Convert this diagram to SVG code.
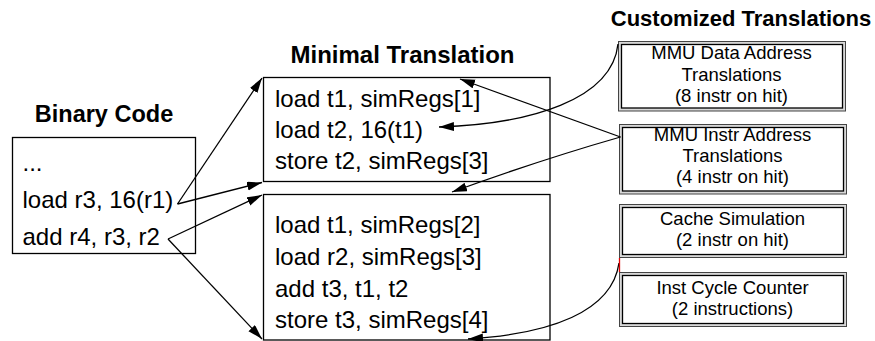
<svg xmlns="http://www.w3.org/2000/svg" width="875" height="341" viewBox="0 0 875 341">
<style>
.t{font-family:"Liberation Sans",Arial,sans-serif;font-size:24px;fill:#000}
.h{font-family:"Liberation Sans",Arial,sans-serif;font-weight:bold;fill:#000;text-anchor:middle}
.s{font-family:"Liberation Sans",Arial,sans-serif;font-size:18.5px;fill:#000;text-anchor:middle}
.box{fill:#fff;stroke:#000;stroke-width:1.3}
.ob{fill:#d8d8d8;stroke:#444;stroke-width:1}
.ib{fill:#fff;stroke:#000;stroke-width:1.3}
.c{fill:none;stroke:#000;stroke-width:1.3;marker-end:url(#ah)}
</style>
<defs>
<marker id="ah" markerUnits="userSpaceOnUse" markerWidth="16" markerHeight="10" refX="15" refY="4.5" orient="auto">
<path d="M0,0 L15,4.5 L0,9 z" fill="#000"/>
</marker>
</defs>
<g id="titles">
<text class="h" x="104" y="122" font-size="23.5">Binary Code</text>
<text class="h" x="402.5" y="63" font-size="24">Minimal Translation</text>
<text class="h" x="741" y="26" font-size="22">Customized Translations</text>
</g>
<g id="binary">
<rect class="box" x="12.5" y="137.5" width="183" height="116"/>
<text class="t" x="22.5" y="171">...</text>
<text class="t" x="22.5" y="207.5">load r3, 16(r1)</text>
<text class="t" x="22.5" y="245">add r4, r3, r2</text>
</g>
<g id="min1">
<rect class="box" x="263.5" y="77.5" width="286.5" height="104"/>
<text class="t" x="275" y="107">load t1, simRegs[1]</text>
<text class="t" x="275" y="138">load t2, 16(t1)</text>
<text class="t" x="275" y="169">store t2, simRegs[3]</text>
</g>
<g id="min2">
<rect class="box" x="263.5" y="194.5" width="286.5" height="145.5"/>
<text class="t" x="275" y="232.5">load t1, simRegs[2]</text>
<text class="t" x="275" y="265">load r2, simRegs[3]</text>
<text class="t" x="275" y="297">add t3, t1, t2</text>
<text class="t" x="275" y="328">store t3, simRegs[4]</text>
</g>
<g id="mmudata">
<rect class="ob" x="618.5" y="41.5" width="227" height="69.5"/>
<rect class="ib" x="621.5" y="44.5" width="221" height="63.5"/>
<text class="s" x="731.5" y="59">MMU Data Address</text>
<text class="s" x="731.5" y="80.5">Translations</text>
<text class="s" x="731.5" y="101.5">(8 instr on hit)</text>
</g>
<g id="mmuinstr">
<rect class="ob" x="619.5" y="124.5" width="227" height="69.5"/>
<rect class="ib" x="622.5" y="127.5" width="221" height="63.5"/>
<text class="s" x="732.5" y="141">MMU Instr Address</text>
<text class="s" x="732.5" y="162">Translations</text>
<text class="s" x="732.5" y="183">(4 instr on hit)</text>
</g>
<g id="cache">
<rect class="ob" x="619.5" y="204.5" width="227" height="53"/>
<rect class="ib" x="622.5" y="207.5" width="221" height="47"/>
<text class="s" x="732.5" y="225">Cache Simulation</text>
<text class="s" x="732.5" y="246">(2 instr on hit)</text>
</g>
<g id="cycle">
<rect class="ob" x="619.5" y="272.5" width="227" height="54"/>
<rect class="ib" x="622.5" y="275.5" width="221" height="48"/>
<text class="s" x="732.5" y="294">Inst Cycle Counter</text>
<text class="s" x="732.5" y="315">(2 instructions)</text>
</g>
<g id="connectors">
<path class="c" d="M177.5,204 L262,78"/>
<path class="c" d="M177.5,204 L262,182.5"/>
<path class="c" d="M168,239 L262,195"/>
<path class="c" d="M168,239 L262,339"/>
<path class="c" d="M618,44 C612,100 530,124 439,127"/>
<path class="c" d="M620.5,137 L460,79"/>
<path class="c" d="M620.5,137 Q540,160 452,192"/>
<path class="c" d="M619,263 C612,312 550,334 468,339"/>
<line x1="619.5" y1="258" x2="619.5" y2="272" stroke="#e00000" stroke-width="1.3"/>
</g>
</svg>
